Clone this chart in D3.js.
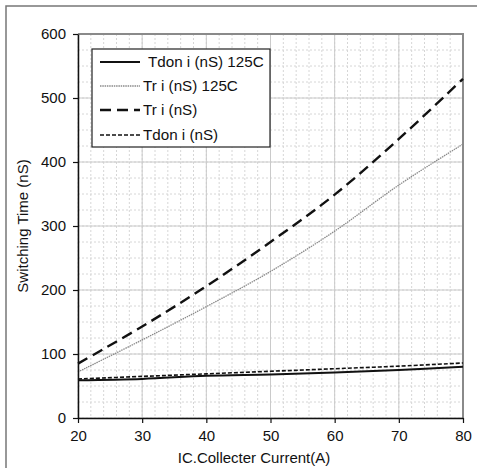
<!DOCTYPE html>
<html><head><meta charset="utf-8">
<script src="https://cdn.jsdelivr.net/npm/d3@7"></script>
<style>
body{margin:0;background:#fff;}
svg text{font-family:"Liberation Sans",Arial,sans-serif;fill:#111;}
</style></head>
<body><svg id="c" width="477" height="468"></svg>
<script>
const currents = [20, 30, 40, 50, 60, 70, 80];
const tdon125 = [59, 61, 66, 68, 71, 75, 80];
const tri125 = [72, 122, 174, 229, 292, 364, 428];
const tri = [85, 143, 206, 275, 349, 436, 530];
const tdon = [61, 65, 69, 73, 77, 81, 86];
const seriesNames = ["Tdon i (nS) 125C", "Tr i (nS) 125C", "Tr i (nS)", "Tdon i (nS)"];
const xTicks = [20, 30, 40, 50, 60, 70, 80];
const yTicks = [0, 100, 200, 300, 400, 500, 600];

const svg = d3.select("#c");
const L = 78, R = 463, T = 34, B = 418;
const x = d3.scaleLinear().domain([20, 80]).range([L, R]);
const y = d3.scaleLinear().domain([0, 600]).range([B, T]);

// outer frame
svg.append("path").attr("d", `M6,468 V6 H477`).attr("fill", "none").attr("stroke", "#777").attr("stroke-width", 1.5);

// minor grid
const g = svg.append("g");
g.selectAll(".vm").data(d3.range(20, 81, 2)).join("line")
  .attr("x1", d => x(d)).attr("x2", d => x(d)).attr("y1", T).attr("y2", B)
  .attr("stroke", "#d6d6d6").attr("stroke-width", 1).attr("stroke-dasharray", "2,2");
g.selectAll(".hm").data(d3.range(0, 601, 25)).join("line")
  .attr("y1", d => y(d)).attr("y2", d => y(d)).attr("x1", L).attr("x2", R)
  .attr("stroke", "#d6d6d6").attr("stroke-width", 1).attr("stroke-dasharray", "2,2");
// major grid
g.selectAll(".vM").data(xTicks).join("line")
  .attr("x1", d => x(d)).attr("x2", d => x(d)).attr("y1", T).attr("y2", B)
  .attr("stroke", "#cacaca").attr("stroke-width", 1);
g.selectAll(".hM").data(yTicks).join("line")
  .attr("y1", d => y(d)).attr("y2", d => y(d)).attr("x1", L).attr("x2", R)
  .attr("stroke", "#cacaca").attr("stroke-width", 1);

// plot border top/right
svg.append("path").attr("d", `M${L},${T} H${R} V${B}`).attr("fill", "none").attr("stroke", "#8a8a8a").attr("stroke-width", 2);

// series
const styles = [
  {data: tdon125, stroke: "#111", w: 2, dash: null},
  {data: tri125, stroke: "#8a8a8a", w: 1.3, dash: "1.5,0.8"},
  {data: tri, stroke: "#111", w: 2.4, dash: "11,6"},
  {data: tdon, stroke: "#111", w: 1.6, dash: "4,2"}
];
const line = d3.line().curve(d3.curveCatmullRom.alpha(0.5));
styles.forEach(s => {
  svg.append("path")
    .attr("d", line(currents.map((c, i) => [x(c), y(s.data[i])])))
    .attr("fill", "none").attr("stroke", s.stroke).attr("stroke-width", s.w)
    .attr("stroke-dasharray", s.dash);
});

// axes
const xa = svg.append("g").attr("transform", `translate(0,${B})`)
  .call(d3.axisBottom(x).tickValues(xTicks).tickSize(5).tickPadding(7).tickSizeOuter(0));
const ya = svg.append("g").attr("transform", `translate(${L},0)`)
  .call(d3.axisLeft(y).tickValues(yTicks).tickSize(5).tickPadding(7).tickSizeOuter(0));
[xa, ya].forEach(a => {
  a.select(".domain").attr("stroke", "#111").attr("stroke-width", 1.5);
  a.selectAll(".tick line").attr("stroke", "#111").attr("stroke-width", 1.2);
  a.selectAll("text").attr("font-size", 15).attr("font-family", "Liberation Sans, Arial, sans-serif").attr("fill", "#111");
});

// axis titles
svg.append("text").attr("x", 254).attr("y", 463).attr("text-anchor", "middle")
  .attr("font-size", 15).text("IC.Collecter Current(A)");
svg.append("text").attr("transform", `translate(28,226) rotate(-90)`).attr("text-anchor", "middle")
  .attr("font-size", 15).text("Switching Time (nS)");

// legend
const lg = svg.append("g");
lg.append("rect").attr("x", 92).attr("y", 49).attr("width", 178).attr("height", 98)
  .attr("fill", "#fff").attr("stroke", "#222").attr("stroke-width", 1.2);
const rowY = [62, 86, 110, 135];
const textX = [148, 143, 143, 143];
styles.forEach((s, i) => {
  lg.append("line").attr("x1", 100).attr("x2", 140).attr("y1", rowY[i]).attr("y2", rowY[i])
    .attr("stroke", s.stroke).attr("stroke-width", s.w).attr("stroke-dasharray", s.dash);
  lg.append("text").attr("x", textX[i]).attr("y", rowY[i] + 5).attr("font-size", 15.2)
    .text(seriesNames[i]);
});
</script></body></html>
